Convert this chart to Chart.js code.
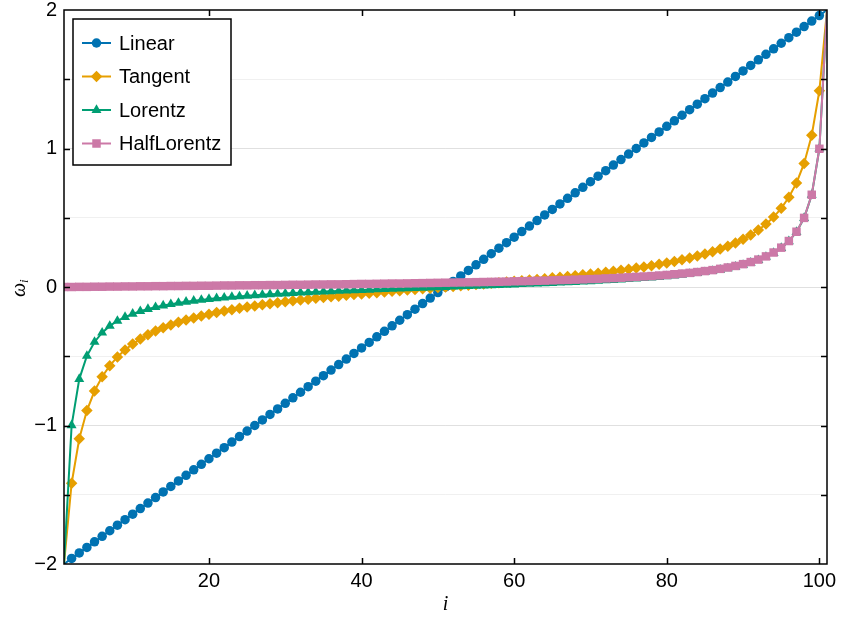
<!DOCTYPE html>
<html>
<head>
<meta charset="utf-8">
<script src="https://cdn.jsdelivr.net/npm/chart.js@4.4.1/dist/chart.umd.min.js"></script>
<style>
  html, body { margin: 0; padding: 0; background: #fff; }
  canvas { display: block; }
</style>
</head>
<body>
<canvas id="meshChart" width="841" height="618"></canvas>
<script>
/* Frequency meshes, 101 points each */
const seriesNames = ['Linear', 'Tangent', 'Lorentz', 'HalfLorentz'];

const linear = [
  -2.00, -1.96, -1.92, -1.88, -1.84, -1.80, -1.76, -1.72, -1.68, -1.64,
  -1.60, -1.56, -1.52, -1.48, -1.44, -1.40, -1.36, -1.32, -1.28, -1.24,
  -1.20, -1.16, -1.12, -1.08, -1.04, -1.00, -0.96, -0.92, -0.88, -0.84,
  -0.80, -0.76, -0.72, -0.68, -0.64, -0.60, -0.56, -0.52, -0.48, -0.44,
  -0.40, -0.36, -0.32, -0.28, -0.24, -0.20, -0.16, -0.12, -0.08, -0.04,
  0.00,
  0.04, 0.08, 0.12, 0.16, 0.20, 0.24, 0.28, 0.32, 0.36, 0.40,
  0.44, 0.48, 0.52, 0.56, 0.60, 0.64, 0.68, 0.72, 0.76, 0.80,
  0.84, 0.88, 0.92, 0.96, 1.00, 1.04, 1.08, 1.12, 1.16, 1.20,
  1.24, 1.28, 1.32, 1.36, 1.40, 1.44, 1.48, 1.52, 1.56, 1.60,
  1.64, 1.68, 1.72, 1.76, 1.80, 1.84, 1.88, 1.92, 1.96, 2.00
];

const tangent = [
  -2.000, -1.417, -1.096, -0.892, -0.751, -0.648, -0.568, -0.505, -0.454, -0.412,
  -0.376, -0.345, -0.318, -0.295, -0.274, -0.255, -0.238, -0.223, -0.209, -0.196,
  -0.185, -0.174, -0.164, -0.154, -0.145, -0.137, -0.129, -0.121, -0.114, -0.107,
  -0.100, -0.094, -0.088, -0.082, -0.076, -0.071, -0.066, -0.060, -0.055, -0.050,
  -0.045, -0.041, -0.036, -0.031, -0.027, -0.022, -0.018, -0.013, -0.009, -0.004,
  0.000,
  0.004, 0.009, 0.013, 0.018, 0.022, 0.027, 0.031, 0.036, 0.041, 0.045,
  0.050, 0.055, 0.060, 0.066, 0.071, 0.076, 0.082, 0.088, 0.094, 0.100,
  0.107, 0.114, 0.121, 0.129, 0.137, 0.145, 0.154, 0.164, 0.174, 0.185,
  0.196, 0.209, 0.223, 0.238, 0.255, 0.274, 0.295, 0.318, 0.345, 0.376,
  0.412, 0.454, 0.505, 0.568, 0.648, 0.751, 0.892, 1.096, 1.417, 2.000
];

const lorentz = [
  -2.000, -0.999, -0.665, -0.498, -0.397, -0.330, -0.281, -0.245, -0.217, -0.194,
  -0.175, -0.159, -0.146, -0.134, -0.124, -0.115, -0.107, -0.100, -0.093, -0.087,
  -0.082, -0.077, -0.072, -0.068, -0.064, -0.060, -0.056, -0.053, -0.050, -0.047,
  -0.044, -0.041, -0.038, -0.036, -0.033, -0.031, -0.028, -0.026, -0.024, -0.022,
  -0.020, -0.018, -0.016, -0.014, -0.012, -0.010, -0.008, -0.006, -0.004, -0.002,
  0.000,
  0.002, 0.004, 0.006, 0.008, 0.010, 0.012, 0.014, 0.016, 0.018, 0.020,
  0.022, 0.024, 0.026, 0.028, 0.031, 0.033, 0.036, 0.038, 0.041, 0.044,
  0.047, 0.050, 0.053, 0.056, 0.060, 0.064, 0.068, 0.072, 0.077, 0.082,
  0.087, 0.093, 0.100, 0.107, 0.115, 0.124, 0.134, 0.146, 0.159, 0.175,
  0.194, 0.217, 0.245, 0.281, 0.330, 0.397, 0.498, 0.665, 0.999, 2.000
];

const halfLorentz = [
  0.000, 0.000, 0.001, 0.001, 0.002, 0.002, 0.003, 0.003, 0.004, 0.004,
  0.005, 0.005, 0.006, 0.006, 0.007, 0.007, 0.008, 0.008, 0.009, 0.009,
  0.010, 0.011, 0.011, 0.012, 0.012, 0.013, 0.013, 0.014, 0.014, 0.015,
  0.016, 0.016, 0.017, 0.018, 0.018, 0.019, 0.019, 0.020, 0.021, 0.022,
  0.022, 0.023, 0.024, 0.025, 0.025, 0.026, 0.027, 0.028, 0.029, 0.030,
  0.031, 0.032, 0.033, 0.034, 0.035, 0.036, 0.037, 0.038, 0.039, 0.041,
  0.042, 0.043, 0.045, 0.046, 0.048, 0.050, 0.051, 0.053, 0.055, 0.057,
  0.059, 0.062, 0.064, 0.067, 0.070, 0.073, 0.076, 0.079, 0.083, 0.087,
  0.092, 0.097, 0.102, 0.108, 0.115, 0.122, 0.131, 0.141, 0.152, 0.165,
  0.180, 0.198, 0.221, 0.249, 0.284, 0.332, 0.399, 0.499, 0.666, 0.998,
  2.000
];

const xTicks = [20, 40, 60, 80, 100];
const yTicks = [-2, -1.5, -1, -0.5, 0, 0.5, 1, 1.5, 2];
const yTickLabels = ['−2', '', '−1', '', '0', '', '1', '', '2'];

const colors = ['#0072B2', '#E69F00', '#009E73', '#CC79A7'];
const markers = ['circle', 'rectRot', 'triangle', 'rect'];
const markerSizes = [4.75, 5.75, 5.75, 6];

const tickFont = { family: "'Liberation Sans', Arial, sans-serif", size: 20 };

// points of one series, x = mesh index i (1..101)
function toPoints(values) {
  return values.map((v, k) => ({ x: k + 1, y: v }));
}

function makeDataset(k, values) {
  return {
    label: seriesNames[k],
    data: toPoints(values),
    borderColor: colors[k],
    backgroundColor: colors[k],
    borderWidth: 2,
    pointStyle: markers[k],
    // end points sit on the frame corner: no marker there
    pointRadius: ctx => (Math.abs(ctx.raw.y) >= 2 ? 0 : markerSizes[k]),
    pointBorderWidth: 0,
    pointHoverRadius: 0,
    tension: 0,
    order: 4 - k
  };
}

// no extra room for labels hanging past the plot edges
function noOverhang(scale) {
  scale.paddingTop = 0;
  scale.paddingBottom = 0;
  scale.paddingLeft = 0;
  scale.paddingRight = 0;
}

// black box, inward ticks on all four sides
const frameTicks = {
  id: 'frameTicks',
  afterDatasetsDraw(chart) {
    const { ctx, chartArea: a, scales: { x, y } } = chart;
    ctx.save();
    ctx.strokeStyle = '#000';
    ctx.lineWidth = 1.5;
    ctx.beginPath();
    yTicks.forEach(v => {
      if (Math.abs(v) === 2) return;
      const py = Math.round(y.getPixelForValue(v)) + 0.5;
      ctx.moveTo(a.left, py); ctx.lineTo(a.left + 6, py);
      ctx.moveTo(a.right, py); ctx.lineTo(a.right - 6, py);
    });
    xTicks.forEach(v => {
      const px = Math.round(x.getPixelForValue(v)) + 0.5;
      ctx.moveTo(px, a.bottom); ctx.lineTo(px, a.bottom - 6);
      ctx.moveTo(px, a.top); ctx.lineTo(px, a.top + 6);
    });
    ctx.stroke();
    ctx.strokeRect(a.left, a.top, a.right - a.left, a.bottom - a.top);
    ctx.restore();
  }
};

// axis titles: i below, omega_i rotated on the left
const axisTitles = {
  id: 'axisTitles',
  afterDraw(chart) {
    const { ctx, chartArea: a } = chart;
    ctx.save();
    ctx.fillStyle = '#000';
    ctx.textAlign = 'center';
    ctx.textBaseline = 'middle';
    ctx.font = "italic 20px 'Liberation Serif', 'DejaVu Serif', serif";
    ctx.fillText('i', (a.left + a.right) / 2, a.bottom + 41);

    ctx.translate(a.left - 44, (a.top + a.bottom) / 2);
    ctx.rotate(-Math.PI / 2);
    ctx.textAlign = 'left';
    ctx.font = "italic 20px 'Liberation Serif', 'DejaVu Serif', serif";
    const w = ctx.measureText('ω').width;
    ctx.fillText('ω', -w / 2 - 3, 0);
    ctx.font = "italic 13px 'Liberation Serif', 'DejaVu Serif', serif";
    ctx.fillText('i', w / 2 - 3, 5);
    ctx.restore();
  }
};

// boxed legend in the top left corner of the plot
const boxLegend = {
  id: 'boxLegend',
  afterDraw(chart) {
    const { ctx, chartArea: a } = chart;
    const left = a.left + 9, top = a.top + 9, width = 158, height = 146;
    ctx.save();
    ctx.fillStyle = '#fff';
    ctx.fillRect(left, top, width, height);
    ctx.strokeStyle = '#000';
    ctx.lineWidth = 1.5;
    ctx.strokeRect(left, top, width, height);
    chart.data.datasets.forEach((ds, k) => {
      const cy = top + 24 + k * 33.5;
      ctx.strokeStyle = colors[k];
      ctx.lineWidth = 2;
      ctx.beginPath();
      ctx.moveTo(left + 9, cy);
      ctx.lineTo(left + 38, cy);
      ctx.stroke();
      ctx.fillStyle = colors[k];
      Chart.helpers.drawPoint(ctx, {
        pointStyle: markers[k], radius: markerSizes[k], rotation: 0, borderWidth: 0
      }, left + 23.5, cy);
      ctx.fillStyle = '#000';
      ctx.font = "20px 'Liberation Sans', Arial, sans-serif";
      ctx.textAlign = 'left';
      ctx.textBaseline = 'middle';
      ctx.fillText(ds.label, left + 46, cy + 1);
    });
    ctx.restore();
  }
};

const chart = new Chart(document.getElementById('meshChart'), {
  type: 'line',
  data: {
    datasets: [
      makeDataset(0, linear),
      makeDataset(1, tangent),
      makeDataset(2, lorentz),
      makeDataset(3, halfLorentz)
    ]
  },
  options: {
    responsive: false,
    animation: false,
    devicePixelRatio: 1,
    events: [],
    layout: { padding: { top: 10, right: 14, left: 0, bottom: 0 } },
    plugins: { legend: { display: false }, tooltip: { enabled: false } },
    scales: {
      x: {
        type: 'linear',
        min: 1,
        max: 101,
        afterBuildTicks: scale => { scale.ticks = xTicks.map(v => ({ value: v })); },
        afterFit: scale => { scale.height = 54; noOverhang(scale); },
        grid: { display: false, drawTicks: false },
        border: { display: false },
        ticks: { font: tickFont, color: '#000', padding: 5, maxRotation: 0 }
      },
      y: {
        type: 'linear',
        min: -2,
        max: 2,
        afterBuildTicks: scale => { scale.ticks = yTicks.map(v => ({ value: v })); },
        afterFit: scale => { scale.width = 64; noOverhang(scale); },
        grid: {
          drawTicks: false,
          lineWidth: 1,
          color: ctx => {
            const v = ctx.tick ? ctx.tick.value : 0;
            if (Math.abs(v) === 2) return 'rgba(0,0,0,0)';
            return Number.isInteger(v) ? 'rgba(0,0,0,0.12)' : 'rgba(0,0,0,0.06)';
          }
        },
        border: { display: false },
        ticks: {
          font: tickFont,
          color: '#000',
          padding: 7,
          callback: (value, index) => yTickLabels[index]
        }
      }
    }
  },
  plugins: [frameTicks, axisTitles, boxLegend]
});
</script>
</body>
</html>
